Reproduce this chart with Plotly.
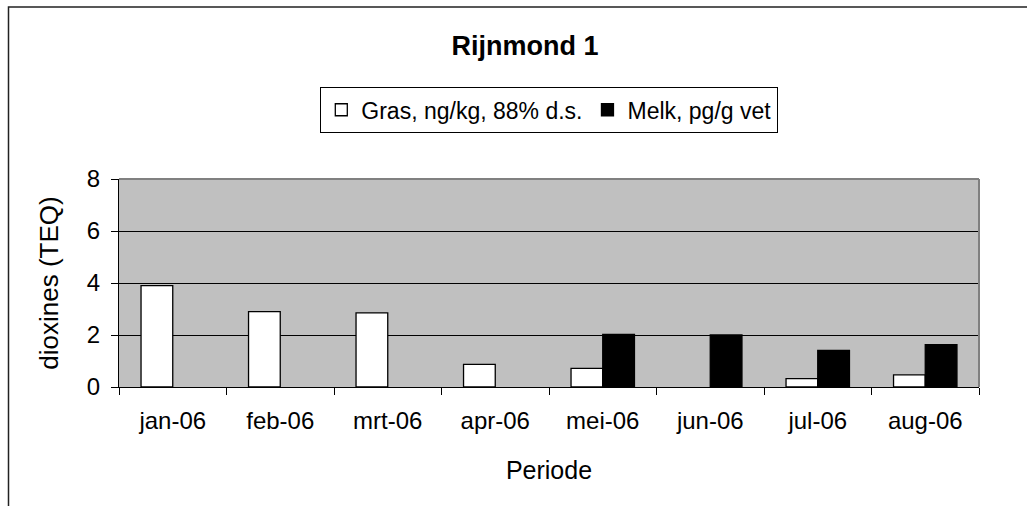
import plotly.graph_objects as go

months = ["jan-06", "feb-06", "mrt-06", "apr-06", "mei-06", "jun-06", "jul-06", "aug-06"]
gras = [3.9, 2.9, 2.85, 0.87, 0.72, None, 0.32, 0.47]
melk = [None, None, None, None, 2.02, 2.0, 1.41, 1.63]
y_ticks = [0, 2, 4, 6, 8]

FONT = "Liberation Sans, Arial, sans-serif"
W, H = 1027, 506
L, R, T, B = 119, 48, 179, 119
PW, PH = W - L - R, H - T - B

def px(x):
    return (x - L) / PW

def py(y):
    return (H - B - y) / PH

fig = go.Figure()
fig.add_trace(go.Bar(x=months, y=gras, name="Gras, ng/kg, 88% d.s.",
                     marker=dict(color="white", line=dict(color="black", width=1.3))))
fig.add_trace(go.Bar(x=months, y=melk, name="Melk, pg/g vet",
                     marker=dict(color="black", line=dict(color="black", width=1.3))))

fig.update_layout(
    width=W, height=H,
    margin=dict(l=L, r=R, t=T, b=B),
    paper_bgcolor="white", plot_bgcolor="#C0C0C0",
    barmode="group", bargap=0.41, bargroupgap=0,
    font=dict(family=FONT, size=24, color="black"),
    showlegend=True,
    legend=dict(orientation="h", x=0.5, xanchor="center", y=py(133), yanchor="bottom",
                bordercolor="black", borderwidth=1.3, bgcolor="white",
                font=dict(size=23), itemwidth=30, tracegroupgap=0),
    title=dict(text="<b>Rijnmond 1</b>", x=525 / W, xanchor="center",
               y=1 - 46 / H, yanchor="middle", font=dict(size=27, family=FONT)),
    xaxis=dict(type="category", tickson="boundaries", ticks="outside", ticklen=7,
               tickcolor="black", tickwidth=1, showline=True, linecolor="black", linewidth=1,
               showgrid=False, tickfont=dict(size=24), ticklabelstandoff=12,
               title=dict(text="Periode", font=dict(size=25), standoff=28)),
    yaxis=dict(range=[0, 8], tickvals=y_ticks, ticks="outside", ticklen=7,
               tickcolor="black", tickwidth=1, showline=True, linecolor="black", linewidth=1,
               showgrid=True, gridcolor="black", gridwidth=1, zeroline=False,
               tickfont=dict(size=24), ticklabelstandoff=6,
               title=dict(text="dioxines (TEQ)", font=dict(size=26), standoff=20)),
)

# plot-area gray border (top & right)
fig.add_shape(type="line", xref="paper", yref="paper", x0=0, x1=1, y0=1, y1=1,
              line=dict(color="#808080", width=2))
fig.add_shape(type="line", xref="paper", yref="paper", x0=1, x1=1, y0=0, y1=1,
              line=dict(color="#808080", width=2))
# outer chart frame
fig.add_shape(type="rect", xref="paper", yref="paper",
              x0=px(8.5), x1=px(1100), y0=py(700), y1=py(7),
              line=dict(color="#222222", width=1.5), layer="below")

fig.write_html("out.html")
